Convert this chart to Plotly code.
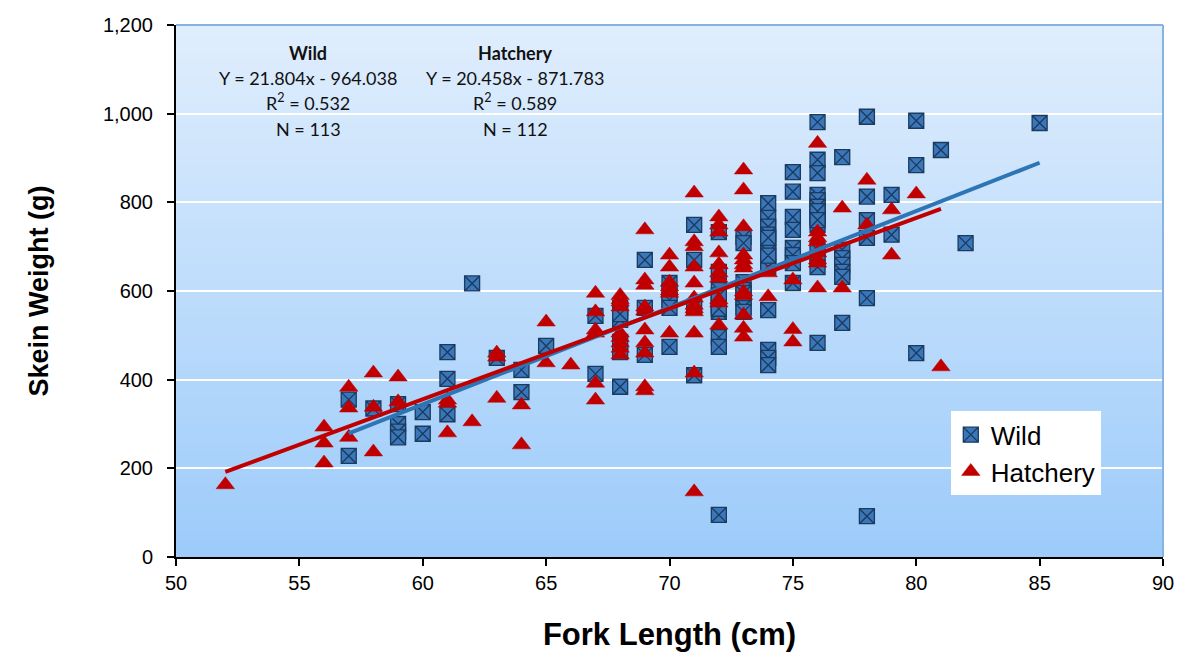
import plotly.graph_objects as go

# ---------------- data ----------------
wild_x = ([57]*2 + [58] + [59]*4 + [60]*2 + [61]*3 + [62] + [63] + [64]*2 + [65] +
          [67]*2 + [68]*6 + [69]*3 + [70]*5 + [71]*4 + [72]*11 + [73]*8 + [74]*14 +
          [75]*8 + [76]*14 + [77]*7 + [78]*6 + [79]*2 + [80]*3 + [81] + [82] + [85])
wild_y = ([355, 228] + [335] + [345, 300, 283, 270] + [327, 278] + [462, 402, 322] + [617] + [449] +
          [422, 372] + [476] +
          [544, 413] + [562, 535, 485, 462, 384, 548] + [670, 562, 456] + [618, 598, 580, 562, 474] +
          [749, 670, 564, 410] +
          [733, 643, 602, 584, 568, 553, 496, 474, 95, 590, 560] +
          [722, 708, 620, 602, 584, 564, 553, 595] +
          [798, 765, 745, 727, 708, 688, 670, 654, 557, 467, 449, 433, 720, 680] +
          [868, 824, 767, 738, 697, 681, 663, 618] +
          [981, 896, 866, 817, 805, 790, 767, 749, 693, 670, 654, 483, 780, 760] +
          [902, 693, 674, 659, 643, 632, 528] +
          [993, 813, 760, 720, 584, 92] + [817, 727] + [984, 884, 460] + [918] + [708] + [979])

hatch_x = ([52] + [56]*3 + [57]*3 + [58]*3 + [59]*2 + [61]*3 + [62] + [63]*3 + [64]*2 + [65]*2 +
           [66] + [67]*6 + [68]*9 + [69]*10 + [70]*7 + [71]*12 + [72]*11 + [73]*12 + [74]*2 +
           [75]*3 + [76]*8 + [77]*2 + [78]*2 + [79]*2 + [80] + [81])
hatch_y = ([163] + [293, 257, 212] + [383, 336, 270] + [415, 338, 237] + [406, 350] +
           [354, 347, 280] + [305] + [460, 451, 358] + [343, 253] + [530, 438] + [433] +
           [595, 553, 512, 392, 354, 505] +
           [590, 580, 564, 505, 483, 471, 456, 575, 495] +
           [738, 625, 613, 564, 512, 483, 460, 384, 375, 555] +
           [681, 654, 620, 609, 595, 505, 600] +
           [821, 711, 700, 654, 618, 584, 568, 553, 505, 415, 147, 560] +
           [767, 749, 733, 686, 659, 641, 629, 573, 523, 660, 580] +
           [873, 828, 745, 681, 659, 652, 598, 546, 516, 496, 670, 590] +
           [641, 587] + [625, 513, 485] + [933, 733, 711, 686, 670, 663, 607, 720] +
           [787, 607] + [850, 749] + [783, 681] + [819] + [429])

wild_slope, wild_intercept, wild_r2, wild_n = 21.804, -964.038, 0.532, 113
hatch_slope, hatch_intercept, hatch_r2, hatch_n = 20.458, -871.783, 0.589, 112

x_ticks = [50, 55, 60, 65, 70, 75, 80, 85, 90]
y_ticks = [0, 200, 400, 600, 800, 1000, 1200]

# ---------------- figure ----------------
FONT = "Liberation Sans, Arial, sans-serif"
ANN_FONT = "Lato, Open Sans, sans-serif"

fig = go.Figure()

fig.add_trace(go.Scatter(
    x=wild_x, y=wild_y, mode="markers", name="Wild",
    marker=dict(symbol="square-x", size=15, color="#3a76b8",
                line=dict(color="#1a3a5e", width=1.3)),
))
fig.add_trace(go.Scatter(
    x=hatch_x, y=hatch_y, mode="markers", name="Hatchery",
    marker=dict(symbol="triangle-up", size=16, color="#c00000",
                line=dict(color="#c00000", width=0.5)),
))

wx = [min(wild_x), max(wild_x)]
fig.add_trace(go.Scatter(
    x=wx, y=[wild_slope * v + wild_intercept for v in wx], mode="lines",
    line=dict(color="#2e75b6", width=4), showlegend=False, hoverinfo="skip",
))
hx = [min(hatch_x), max(hatch_x)]
fig.add_trace(go.Scatter(
    x=hx, y=[hatch_slope * v + hatch_intercept for v in hx], mode="lines",
    line=dict(color="#c00000", width=4), showlegend=False, hoverinfo="skip",
))

# gradient background of the plot area
shapes = []
nb = 60
top = (224, 238, 253)
bot = (156, 203, 250)
for i in range(nb):
    t = (i + 0.5) / nb
    c = tuple(round(bot[k] + (top[k] - bot[k]) * t) for k in range(3))
    shapes.append(dict(type="rect", xref="x domain", yref="y domain",
                       x0=0, x1=1, y0=i / nb, y1=(i + 1) / nb + 0.002,
                       fillcolor="rgb(%d,%d,%d)" % c, line=dict(width=0), layer="below"))
# light blue frame at top and right
shapes.append(dict(type="line", xref="x domain", yref="y domain", x0=0, x1=1, y0=1, y1=1,
                   line=dict(color="#86b3e0", width=2), layer="above"))
shapes.append(dict(type="line", xref="x domain", yref="y domain", x0=1, x1=1, y0=0, y1=1,
                   line=dict(color="#86b3e0", width=2), layer="above"))

annotations = []
def add_block(xc, title, slope, intercept, r2, n):
    lines = [("<b>%s</b>" % title, 1137),
             ("Y = %.3fx - %.3f" % (slope, -intercept), 1081),
             ("R<sup>2</sup> = %.3f" % r2, 1026),
             ("N = %d" % n, 965)]
    for txt, yy in lines:
        annotations.append(dict(x=xc, y=yy, xref="x", yref="y", text=txt, showarrow=False,
                                font=dict(family=ANN_FONT, size=18, color="#111111"),
                                xanchor="center", yanchor="middle"))

add_block(55.35, "Wild", wild_slope, wild_intercept, wild_r2, wild_n)
add_block(63.75, "Hatchery", hatch_slope, hatch_intercept, hatch_r2, hatch_n)

fig.update_layout(
    width=1178, height=660,
    margin=dict(l=176, r=15, t=25, b=103, autoexpand=False),
    paper_bgcolor="white",
    plot_bgcolor="rgba(0,0,0,0)",
    font=dict(family=FONT, size=20, color="black"),
    shapes=shapes,
    annotations=annotations,
    showlegend=True,
    legend=dict(x=0.785, y=0.274, xanchor="left", yanchor="top",
                bgcolor="white", borderwidth=0,
                font=dict(family=FONT, size=26, color="black"),
                tracegroupgap=4, itemwidth=30),
    xaxis=dict(range=[50, 90], tickvals=x_ticks, ticks="outside", ticklen=7, tickwidth=2,
               tickcolor="black", showline=True, linecolor="black", linewidth=2,
               showgrid=False, zeroline=False, automargin=False,
               ticklabeloverflow="allow",
               tickfont=dict(family=FONT, size=20),
               title=dict(text="<b>Fork Length (cm)</b>", font=dict(family=FONT, size=31),
                          standoff=30)),
    yaxis=dict(range=[0, 1200], tickvals=y_ticks, tickformat=",", ticks="outside",
               ticklen=7, tickwidth=2, tickcolor="black", showline=True, linecolor="black",
               linewidth=2, showgrid=True, gridcolor="white", gridwidth=2, zeroline=False,
               automargin=False, ticklabelstandoff=10,
               tickfont=dict(family=FONT, size=20),
               title=dict(text="<b>Skein Weight (g)</b>", font=dict(family=FONT, size=27),
                          standoff=46)),
)

fig.write_html("out.html", config={"displayModeBar": False},
               post_script="document.body.style.margin='0';document.body.style.overflow='hidden';")
